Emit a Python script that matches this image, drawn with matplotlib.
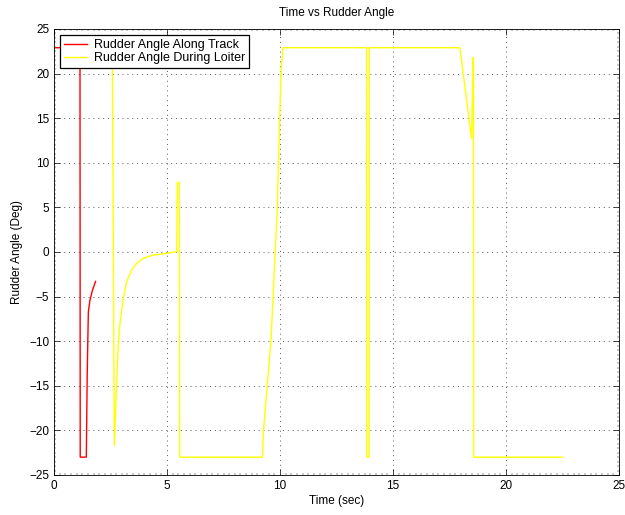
import matplotlib
matplotlib.use('Agg')
import matplotlib.pyplot as plt
from matplotlib.ticker import MultipleLocator

plt.rcParams['font.family'] = ['Liberation Sans', 'DejaVu Sans']

# rudder angle while tracking
t_track = [0, 1.15, 1.16, 1.43, 1.47, 1.52, 1.59, 1.7, 1.84]
r_track = [22.9, 22.9, -23, -23, -13.6, -6.7, -5.4, -4.3, -3.3]

# rudder angle during loiter
t_loiter = [2.58, 2.67, 2.77, 2.85, 2.92, 3.07, 3.22, 3.44, 3.66, 3.95, 4.40,
            4.99, 5.43, 5.46, 5.55, 5.56, 9.22, 9.27, 9.6, 9.88, 10.04, 10.13,
            13.83, 13.84, 13.94, 13.95, 17.96, 18.48, 18.54, 18.56, 18.57, 22.5]
r_loiter = [22.9, -21.7, -14.7, -10.2, -8.0, -5.2, -3.3, -2.0, -1.27, -0.71, -0.34,
            -0.15, 0.04, 7.8, 7.8, -23, -23, -20, -10, 4.9, 20, 22.9,
            22.9, -23, -23, 22.9, 22.9, 12.7, 21.8, 21.8, -23, -23]

fig = plt.figure(figsize=(6.25, 5.15), dpi=100)
ax = fig.add_axes([0.0864, 0.0777, 0.904, 0.866])

ax.plot(t_track, r_track, color='red', lw=1.0, label='Rudder Angle Along Track')
ax.plot(t_loiter, r_loiter, color='yellow', lw=1.0, label='Rudder Angle During Loiter')

ax.set_xlim(0, 25)
ax.set_ylim(-25, 25)
ax.xaxis.set_major_locator(MultipleLocator(5))
ax.yaxis.set_major_locator(MultipleLocator(5))
ax.xaxis.set_minor_locator(MultipleLocator(0.25))
ax.yaxis.set_minor_locator(MultipleLocator(0.5))
ax.tick_params(which='both', direction='in', top=True, right=True, labelsize=8.5)
ax.tick_params(which='major', length=4, width=0.5)
ax.tick_params(which='minor', length=1.2, width=0.3)
ax.grid(True, which='major', linestyle=(0, (1, 4)), color='0.35', lw=0.7)
for s in ax.spines.values():
    s.set_linewidth(0.6)

ax.set_xlabel('Time (sec)', fontsize=8.5, labelpad=2)
ax.set_ylabel('Rudder Angle (Deg)', fontsize=8.5)
ax.set_title('Time vs Rudder Angle', fontsize=8.5, pad=9)

leg = ax.legend(loc='upper left', fontsize=9, fancybox=False, framealpha=1,
                edgecolor='black', borderpad=0.3, handlelength=1.8,
                handletextpad=0.6, labelspacing=0.1, borderaxespad=0.5)
leg.get_frame().set_linewidth(0.9)

fig.savefig('out.png', dpi=100)
